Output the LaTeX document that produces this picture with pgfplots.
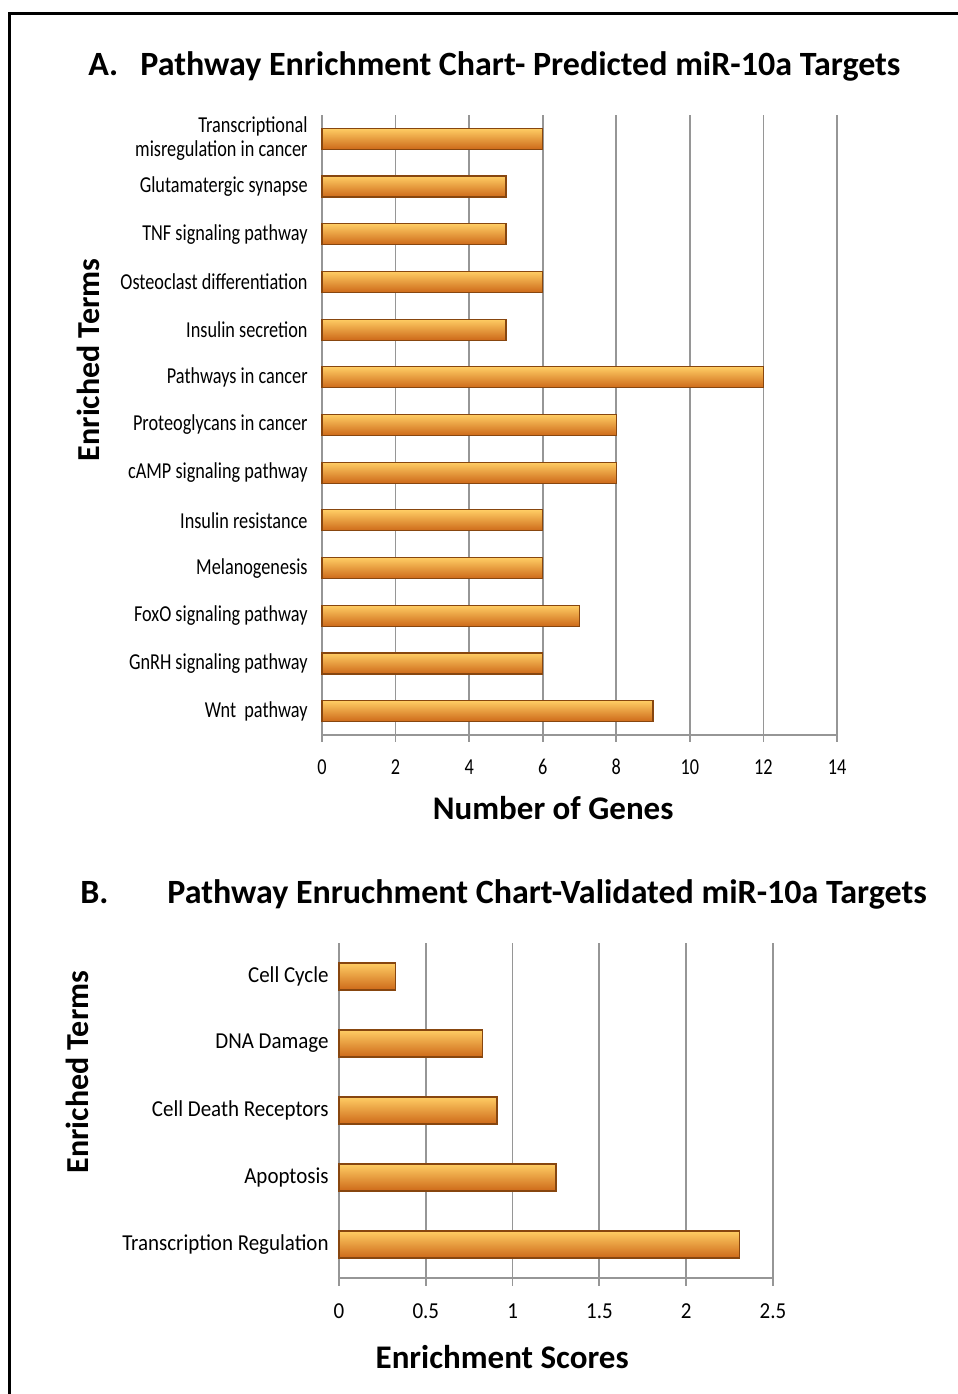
\documentclass[border=0pt]{standalone}
\usepackage{fontspec}
\setmainfont{Carlito}
\newfontfamily\labA[FakeStretch=0.8]{Carlito}
\newfontfamily\labB[FakeStretch=0.92]{Carlito}
\usepackage{pgfplots}
\pgfplotsset{compat=1.18}
\definecolor{gridc}{RGB}{150,150,150}
\definecolor{barhi}{RGB}{255,205,100}
\definecolor{barmid}{RGB}{246,142,36}
\definecolor{barlo}{RGB}{205,105,25}
\definecolor{baredge}{RGB}{135,70,15}

\pgfplotsset{
  barstyle/.style={xbar, bar shift=0pt, draw=baredge, line width=0.6pt,
    top color=barhi, middle color=barmid, bottom color=barlo},
  common/.style={
    scale only axis, anchor=south west,
    axis x line*=bottom, axis y line*=left,
    axis line style={gridc, line width=0.9pt, -},
    xmajorgrids, grid style={gridc, line width=0.9pt},
    y tick style={draw=none},
    x tick style={gridc, line width=0.9pt},
    xtick align=outside,
    /pgf/number format/assume math mode=true,
    yticklabel style={align=right, inner sep=0pt},
    xticklabel style={anchor=north, inner sep=0pt},
    enlargelimits=false,
    clip=false,
  }
}
% one bar per \addplot so that each bar gets its own shading
\newcommand\onebar[2]{\addplot[barstyle] coordinates {(#1,#2)};}

\begin{document}
\begin{tikzpicture}
\path[use as bounding box] (0,0) rectangle (479pt,697pt);
\draw[line width=1.5pt] (4.5pt,0) -- (4.5pt,690pt) -- (479pt,690pt);

% Titles
\node[anchor=base west, inner sep=0pt, font=\bfseries\fontsize{17}{19}\selectfont] at (44pt,659pt) {A.};
\node[anchor=base west, inner sep=0pt, font=\bfseries\fontsize{17}{19}\selectfont] at (70pt,659pt) {Pathway Enrichment Chart- Predicted miR-10a Targets};
\node[anchor=base west, inner sep=0pt, font=\bfseries\fontsize{17}{19}\selectfont] at (40pt,245pt) {B.};
\node[anchor=base west, inner sep=0pt, font=\bfseries\fontsize{17}{19}\selectfont] at (83.5pt,245pt) {Pathway Enruchment Chart-Validated miR-10a Targets};

% Panel A
\begin{axis}[common,
  at={(161pt,329.5pt)},
  width=257.5pt, height=310pt,
  bar width=10.5pt,
  xmin=0, xmax=14, ymin=-0.5, ymax=12.5,
  xtick={0,2,4,6,8,10,12,14},
  major tick length=3.5pt,
  ytick={0,1,2,3,4,5,6,7,8,9,10,11,12},
  yticklabels={{Wnt\ \ pathway},{GnRH signaling pathway},{FoxO signaling pathway},{Melanogenesis},{Insulin resistance},{cAMP signaling pathway},{Proteoglycans in cancer},{Pathways in cancer},{Insulin secretion},{Osteoclast differentiation},{TNF signaling pathway},{Glutamatergic synapse},{Transcriptional\\misregulation in cancer}},
  tick label style={font=\labA\fontsize{11.4}{12}\selectfont},
  yticklabel style={xshift=-7pt},
  xticklabel style={yshift=-8.5pt},
  xlabel={Number of Genes},
  xlabel style={font=\bfseries\fontsize{16.5}{18}\selectfont, at={(axis description cs:0.449,-0.1177)}, anchor=center},
  ylabel={Enriched Terms},
  ylabel style={font=\bfseries\fontsize{16}{18}\selectfont, at={(axis description cs:-0.4544,0.605)}, anchor=center},
]
\onebar{9}{0}
\onebar{6}{1}
\onebar{7}{2}
\onebar{6}{3}
\onebar{6}{4}
\onebar{8}{5}
\onebar{8}{6}
\onebar{12}{7}
\onebar{5}{8}
\onebar{6}{9}
\onebar{5}{10}
\onebar{5}{11}
\onebar{6}{12}
\end{axis}

% Panel B
\begin{axis}[common,
  at={(169.5pt,58pt)},
  width=217pt, height=167.5pt,
  bar width=13.5pt,
  xmin=0, xmax=2.5, ymin=-0.5, ymax=4.5,
  xtick={0,0.5,1,1.5,2,2.5},
  major tick length=4pt,
  ytick={0,1,2,3,4},
  yticklabels={{Transcription Regulation},{Apoptosis},{Cell Death Receptors},{DNA Damage},{Cell Cycle}},
  tick label style={font=\labB\fontsize{11.4}{12}\selectfont},
  yticklabel style={xshift=-5pt},
  xticklabel style={yshift=-8.5pt},
  xlabel={Enrichment Scores},
  xlabel style={font=\bfseries\fontsize{16.5}{18}\selectfont, at={(axis description cs:0.376,-0.2358)}, anchor=center},
  ylabel={Enriched Terms},
  ylabel style={font=\bfseries\fontsize{16}{18}\selectfont, at={(axis description cs:-0.6037,0.615)}, anchor=center},
]
\onebar{2.306}{0}
\onebar{1.25}{1}
\onebar{0.91}{2}
\onebar{0.828}{3}
\onebar{0.327}{4}
\end{axis}
\end{tikzpicture}
\end{document}
